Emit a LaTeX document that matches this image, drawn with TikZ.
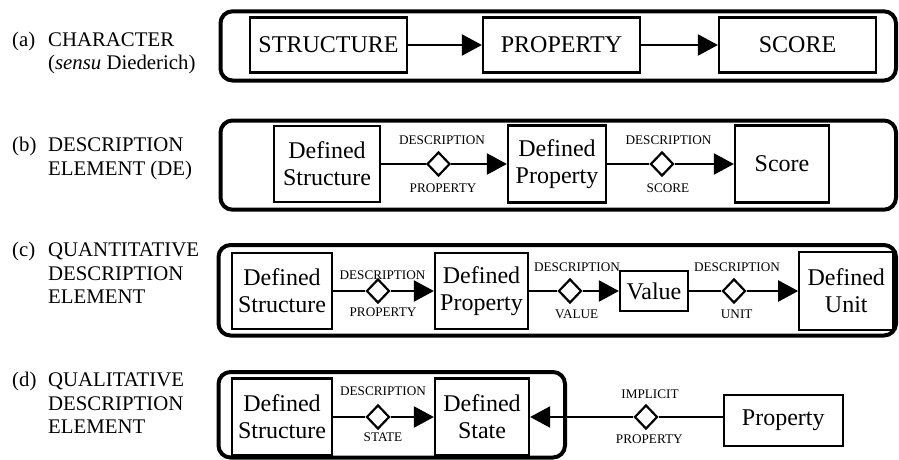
\documentclass[tikz,border=0pt]{standalone}
\usepackage{fontspec}
\setmainfont{Liberation Serif}
\usetikzlibrary{calc, shapes.geometric, arrows.meta}

\begin{document}
\begin{tikzpicture}[x=1pt,y=-1pt]
\tikzstyle{line} = [draw, line width=2.2pt, -{Triangle[length=20pt,width=21pt]}]
\tikzstyle{link} = [draw, line width=2.2pt]
\tikzstyle{frame} = [draw, line width=4pt, rounded corners=12pt]
\tikzstyle{entity} = [rectangle, draw, line width=2.2pt, inner sep=2pt, align=center, font=\fontsize{24}{27}\selectfont]
\tikzstyle{rel} = [diamond, draw, fill=white, line width=2.2pt, inner sep=0pt, minimum width=23pt, minimum height=24pt]
\tikzstyle{role} = [inner sep=0pt, font=\fontsize{13.2}{15}\selectfont]
\tikzstyle{caption} = [anchor=base west, inner sep=0pt, font=\fontsize{20.8}{23.5}\selectfont]
\useasboundingbox (0,0) rectangle (899,460);
% captions
\node[caption] (T_a) at (12,46.5) {\begin{tabular}[t]{@{}l@{}l@{}}\makebox[36pt][l]{(a)} & CHARACTER\\ & (\textit{sensu} Diederich)\end{tabular}};
\node[caption] (T_b) at (12,151.7) {\begin{tabular}[t]{@{}l@{}l@{}}\makebox[36pt][l]{(b)} & DESCRIPTION\\ & ELEMENT (DE)\end{tabular}};
\node[caption] (T_c) at (12,256.7) {\begin{tabular}[t]{@{}l@{}l@{}}\makebox[36pt][l]{(c)} & QUANTITATIVE\\ & DESCRIPTION\\ & ELEMENT\end{tabular}};
\node[caption] (T_d) at (12,386.7) {\begin{tabular}[t]{@{}l@{}l@{}}\makebox[36pt][l]{(d)} & QUALITATIVE\\ & DESCRIPTION\\ & ELEMENT\end{tabular}};
% frames
\draw[frame] (220.5,11.3) rectangle (896,80.5);
\draw[frame] (220.5,120.5) rectangle (896,209.7);
\draw[frame] (218.5,245) rectangle (896,335.5);
\draw[frame] (218.5,372) rectangle (565,457.5);
% (a) character
\node[entity, minimum width=157pt, minimum height=55pt] (S_a) at (328.5,45) {STRUCTURE};
\node[entity, minimum width=157pt, minimum height=55pt] (P_a) at (561.5,45) {PROPERTY};
\node[entity, minimum width=157pt, minimum height=55pt] (C_a) at (797.5,45) {SCORE};
\path [line] (S_a) -- (P_a);
\path [line] (P_a) -- (C_a);
% (b) description element
\node[entity, minimum width=106pt, minimum height=76pt] (DS_b) at (327,164) {Defined\\Structure};
\node[rel] (R1_b) at (438.5,164) {};
\node[role] (R1t_b) at (442,140.3) {DESCRIPTION};
\node[role] (R1s_b) at (443,187.7) {PROPERTY};
\node[entity, minimum width=98pt, minimum height=77pt] (DP_b) at (557,164) {Defined\\Property};
\node[rel] (R2_b) at (662,164) {};
\node[role] (R2t_b) at (668.5,140.3) {DESCRIPTION};
\node[role] (R2s_b) at (668,187.7) {SCORE};
\node[entity, minimum width=94pt, minimum height=77pt] (SC_b) at (782,164) {Score};
\path [link] (DS_b) -- (R1_b);
\path [line] (R1_b) -- (DP_b);
\path [link] (DP_b) -- (R2_b);
\path [line] (R2_b) -- (SC_b);
% (c) quantitative description element
\node[entity, minimum width=100pt, minimum height=76pt] (DS_c) at (282,291) {Defined\\Structure};
\node[rel] (R1_c) at (378,291) {};
\node[role] (R1t_c) at (382.5,275.5) {DESCRIPTION};
\node[role] (R1s_c) at (383,312.5) {PROPERTY};
\node[entity, minimum width=93pt, minimum height=76pt] (DP_c) at (481.5,291) {Defined\\Property};
\node[rel] (R2_c) at (570,291) {};
\node[role] (R2t_c) at (577,267.5) {DESCRIPTION};
\node[role] (R2s_c) at (576.7,313.8) {VALUE};
\node[entity, minimum width=68pt, minimum height=40pt] (V_c) at (654,291) {Value};
\node[rel] (R3_c) at (734,291) {};
\node[role] (R3t_c) at (737,267.5) {DESCRIPTION};
\node[role] (R3s_c) at (736.7,313.8) {UNIT};
\node[entity, minimum width=94pt, minimum height=78pt] (DU_c) at (846.3,291) {Defined\\Unit};
\path [link] (DS_c) -- (R1_c);
\path [line] (R1_c) -- (DP_c);
\path [link] (DP_c) -- (R2_c);
\path [line] (R2_c) -- (V_c);
\path [link] (V_c) -- (R3_c);
\path [line] (R3_c) -- (DU_c);
% (d) qualitative description element
\node[entity, minimum width=100pt, minimum height=77pt] (DS_d) at (282,417) {Defined\\Structure};
\node[rel] (R1_d) at (378,417) {};
\node[role] (R1t_d) at (383,391) {DESCRIPTION};
\node[role] (R1s_d) at (383,437) {STATE};
\node[entity, minimum width=94pt, minimum height=77pt] (DSt_d) at (482,417) {Defined\\State};
\node[rel] (R2_d) at (646,417) {};
\node[role] (R2t_d) at (650,393.8) {IMPLICIT};
\node[role] (R2s_d) at (649.3,439.5) {PROPERTY};
\node[entity, minimum width=119pt, minimum height=51pt] (Pr_d) at (783.3,420.5) {Property};
\path [link] (DS_d) -- (R1_d);
\path [line] (R1_d) -- (DSt_d);
\path [link] (Pr_d.west |- R2_d) -- (R2_d);
\path [line] (R2_d) -- (DSt_d);
\end{tikzpicture}
\end{document}
